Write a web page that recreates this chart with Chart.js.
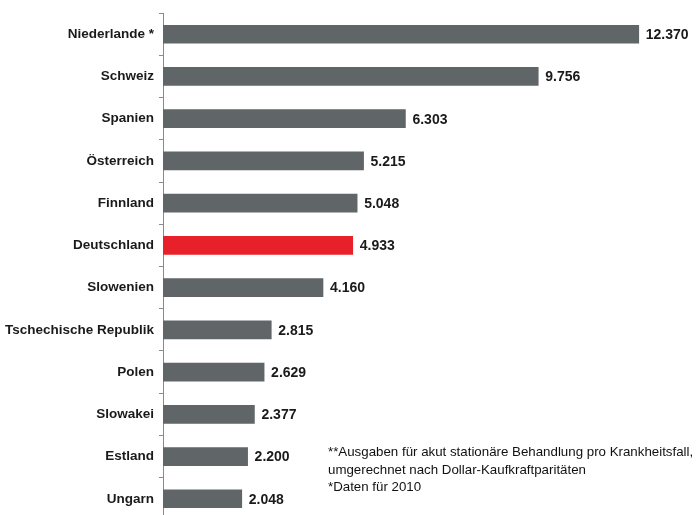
<!DOCTYPE html>
<html>
<head>
<meta charset="utf-8">
<script src="https://cdn.jsdelivr.net/npm/chart.js@4"></script>
<style>
html,body{margin:0;padding:0;background:#fff;overflow:hidden;width:700px;height:515px;}
#wrap{position:relative;width:700px;height:533px;}
#note{position:absolute;left:328px;top:443px;font:13.3px "Liberation Sans",Arial,sans-serif;color:#111;line-height:17.5px;white-space:nowrap;}
</style>
</head>
<body>
<div id="wrap">
<canvas id="c" width="700" height="533" style="width:700px;height:533px;display:block"></canvas>
<div id="note">**Ausgaben für akut stationäre Behandlung pro Krankheitsfall,<br>umgerechnet nach Dollar-Kaufkraftparitäten<br>*Daten für 2010</div>
</div>
<script>
const categories = ["Niederlande *","Schweiz","Spanien","Österreich","Finnland","Deutschland","Slowenien","Tschechische Republik","Polen","Slowakei","Estland","Ungarn"];
const values = [12370, 9756, 6303, 5215, 5048, 4933, 4160, 2815, 2629, 2377, 2200, 2048];
const highlight = "Deutschland";

const GRAY = "#606568";
const RED = "#e8202a";

function fmtDE(v){
  return String(v).replace(/\B(?=(\d{3})+(?!\d))/g, ".");
}

const valueLabels = {
  id: "valueLabels",
  afterDatasetsDraw(chart){
    const ctx = chart.ctx;
    const meta = chart.getDatasetMeta(0);
    ctx.save();
    ctx.font = "bold 14px 'Liberation Sans', Arial, sans-serif";
    ctx.fillStyle = "#1a1a1a";
    ctx.textAlign = "left";
    ctx.textBaseline = "middle";
    meta.data.forEach((el, i) => {
      ctx.fillText(fmtDE(values[i]), el.x + 7, el.y + 1);
    });
    ctx.restore();
  }
};

new Chart(document.getElementById("c"), {
  type: "bar",
  data: {
    labels: categories,
    datasets: [{
      data: values,
      backgroundColor: categories.map(c => c === highlight ? RED : GRAY),
      borderWidth: 0,
      barThickness: 18
    }]
  },
  options: {
    indexAxis: "y",
    responsive: false,
    animation: false,
    events: [],
    layout: { padding: { top: 10, bottom: 1, left: 0, right: 37 } },
    plugins: { legend: { display: false }, tooltip: { enabled: false } },
    scales: {
      x: { display: false, min: 0, max: 13000 },
      y: {
        afterFit(scale){ scale.width = 163; },
        border: { display: true, color: "#8a8a8a", width: 1 },
        grid: { drawOnChartArea: false, drawTicks: true, tickLength: 4, color: "#8a8a8a", offset: true },
        ticks: {
          padding: 5,
          color: "#1a1a1a",
          font: { family: "'Liberation Sans', Arial, sans-serif", size: 13.5, weight: "bold" }
        }
      }
    }
  },
  plugins: [valueLabels]
});
</script>
</body>
</html>
